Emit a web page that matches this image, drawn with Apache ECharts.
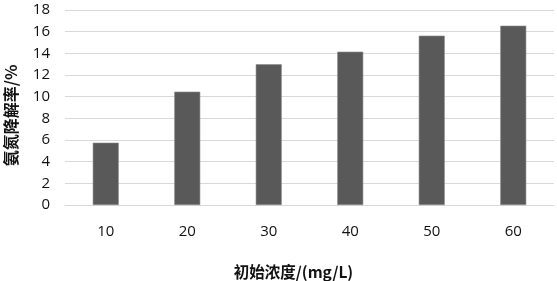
<!DOCTYPE html>
<html><head><meta charset="utf-8">
<script src="https://cdn.jsdelivr.net/npm/echarts@6/dist/echarts.min.js"></script>
<style>html,body{margin:0;padding:0;background:#fff}#c{width:557px;height:281px}</style>
</head><body><div id="c"></div>
<script>
const categories = ['10','20','30','40','50','60'];
const values = [5.75, 10.46, 12.99, 14.15, 15.63, 16.55];
const yTicks = {min:0, max:18, interval:2};
const xName = '初始浓度/(mg/L)';
const yName = '氨氮降解率/%';

const chart = echarts.init(document.getElementById('c'), null, {renderer:'canvas'});
chart.setOption({
  animation:false,
  grid:{left:65, right:3, top:10, bottom:76, containLabel:false, outerBoundsMode:'none'},
  xAxis:{
    type:'category', data:categories,
    axisLine:{show:true, lineStyle:{color:'#d9d9d9'}},
    axisTick:{show:false},
    axisLabel:{margin:19, fontSize:15, color:'#111', fontFamily:'Open Sans, Liberation Sans, sans-serif'},
    name:xName, nameLocation:'middle', nameGap:59,
    nameTextStyle:{fontSize:15.5, fontWeight:'bold', color:'#111', fontFamily:'Noto Sans CJK SC, sans-serif', padding:[0,32,0,0]}
  },
  yAxis:{
    type:'value', min:yTicks.min, max:yTicks.max, interval:yTicks.interval,
    axisLine:{show:false}, axisTick:{show:false},
    splitLine:{lineStyle:{color:'#d9d9d9', width:1}},
    axisLabel:{margin:15, fontSize:15, color:'#111', fontFamily:'Open Sans, Liberation Sans, sans-serif'},
    name:yName, nameLocation:'middle', nameGap:46, nameRotate:90,
    nameTextStyle:{fontSize:16, fontWeight:'bold', color:'#111', fontFamily:'Noto Sans CJK SC, sans-serif', padding:[0,16,0,0]}
  },
  series:[{
    type:'bar', data:values, barWidth:26,
    itemStyle:{color:'#595959', borderColor:'#8c8c8c', borderWidth:0.6}
  }]
});
</script></body></html>
